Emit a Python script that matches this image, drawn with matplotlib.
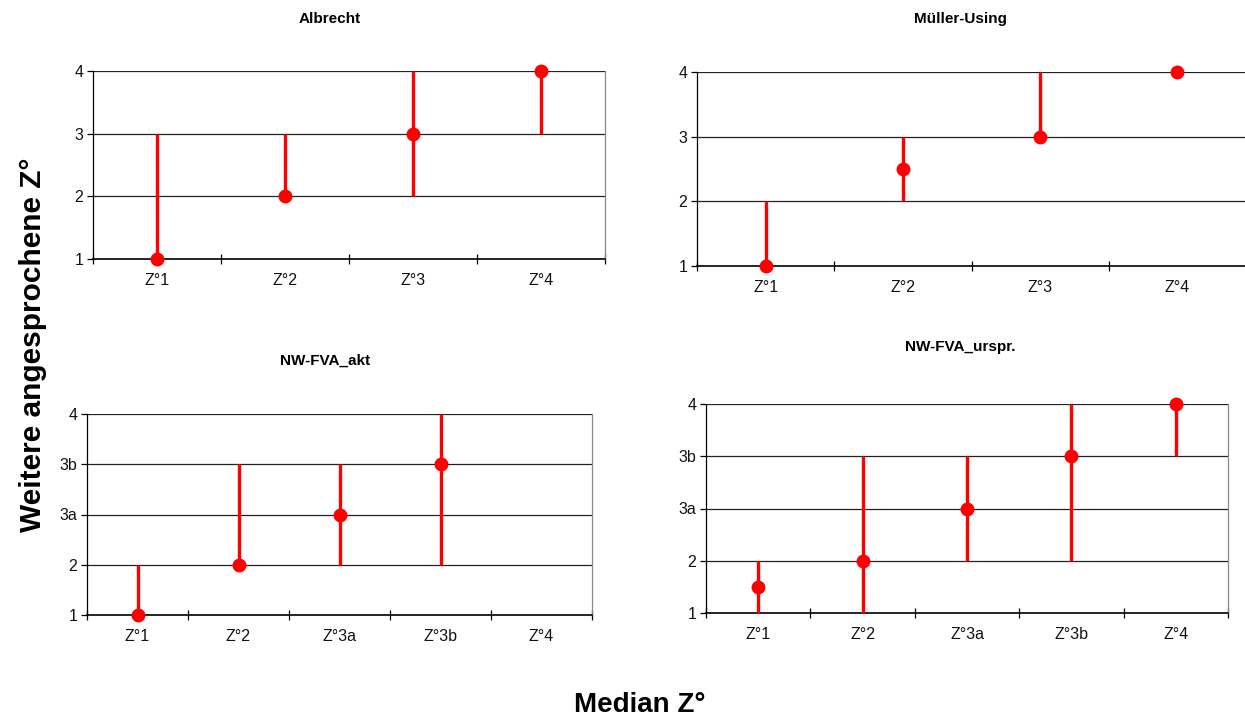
import numpy as np
import matplotlib
matplotlib.use("Agg")
import matplotlib.pyplot as plt

plt.rcParams['font.family'] = ['Liberation Sans', 'DejaVu Sans']

# ---- data ----
albrecht_cats = ["Z°1", "Z°2", "Z°3", "Z°4"]
albrecht_median = [1, 2, 3, 4]
albrecht_low = [1, 2, 2, 3]
albrecht_high = [3, 3, 4, 4]

mueller_cats = ["Z°1", "Z°2", "Z°3", "Z°4"]
mueller_median = [1, 2.5, 3, 4]
mueller_low = [1, 2, 3, 4]
mueller_high = [2, 3, 4, 4]

akt_cats = ["Z°1", "Z°2", "Z°3a", "Z°3b", "Z°4"]
akt_median = [1, 2, 3, 4, np.nan]
akt_low = [1, 2, 2, 2, np.nan]
akt_high = [2, 4, 4, 5, np.nan]

urspr_cats = ["Z°1", "Z°2", "Z°3a", "Z°3b", "Z°4"]
urspr_median = [1.5, 2, 3, 4, 5]
urspr_low = [1, 1, 2, 2, 4]
urspr_high = [2, 4, 4, 5, 5]

ytick_4 = ["1", "2", "3", "4"]
ytick_5 = ["1", "2", "3a", "3b", "4"]

W, H = 1245, 719
fig = plt.figure(figsize=(W / 100, H / 100), dpi=100)


def px_axes(left, top, right, bottom):
    return fig.add_axes([left / W, 1 - bottom / H, (right - left) / W, (bottom - top) / H])


def panel(ax, cats, med, lo, hi, ylabels):
    n = len(cats)
    x = np.arange(n) + 0.5
    nlev = len(ylabels)
    ax.set_xlim(0, n)
    ax.set_ylim(1, nlev)
    for v in range(2, nlev + 1):
        ax.axhline(v, color='#222222', lw=0.9, zorder=1)
    ax.vlines(x, lo, hi, color='#ff0000', lw=2.4, zorder=3, clip_on=False)
    ax.plot(x, med, 'o', color='#ff0000', ms=9, zorder=4, clip_on=False)
    ax.set_xticks(np.arange(n + 1))
    ax.set_xticklabels([])
    ax.set_xticks(x, minor=True)
    ax.set_xticklabels(cats, minor=True, fontsize=11.5, color='#111111')
    ax.tick_params(axis='x', which='major', direction='inout', length=7, width=0.9)
    ax.tick_params(axis='x', which='minor', length=0, pad=10)
    ax.set_yticks(np.arange(1, nlev + 1))
    ax.set_yticklabels(ylabels, fontsize=11.5, color='#111111')
    ax.tick_params(axis='y', direction='out', length=4, width=0.9, pad=3)
    ax.spines['top'].set_visible(False)
    ax.spines['right'].set_color('#888888')
    ax.spines['right'].set_linewidth(0.9)
    ax.spines['left'].set_linewidth(0.9)
    ax.spines['bottom'].set_linewidth(1.2)


ax1 = px_axes(93, 71, 605, 259)
panel(ax1, albrecht_cats, albrecht_median, albrecht_low, albrecht_high, ytick_4)
ax2 = px_axes(697, 72, 1246, 266)
panel(ax2, mueller_cats, mueller_median, mueller_low, mueller_high, ytick_4)
ax3 = px_axes(87, 414, 592, 615)
panel(ax3, akt_cats, akt_median, akt_low, akt_high, ytick_5)
ax4 = px_axes(706, 404, 1228, 613)
panel(ax4, urspr_cats, urspr_median, urspr_low, urspr_high, ytick_5)

fig.text(330 / W, 1 - 19 / H, "Albrecht", ha='center', va='center', fontsize=11, fontweight='bold')
fig.text(960 / W, 1 - 19 / H, "Müller-Using", ha='center', va='center', fontsize=11, fontweight='bold')
fig.text(325 / W, 1 - 361 / H, "NW-FVA_akt", ha='center', va='center', fontsize=11, fontweight='bold')
fig.text(960 / W, 1 - 347 / H, "NW-FVA_urspr.", ha='center', va='center', fontsize=11, fontweight='bold')

fig.text(33 / W, 1 - 345 / H, "Weitere angesprochene Z°", rotation=90, ha='center', va='center',
         fontsize=21.5, fontweight='bold')
fig.text(640 / W, 1 - 705 / H, "Median Z°", ha='center', va='center', fontsize=20, fontweight='bold')

fig.savefig("out.png", dpi=100)
